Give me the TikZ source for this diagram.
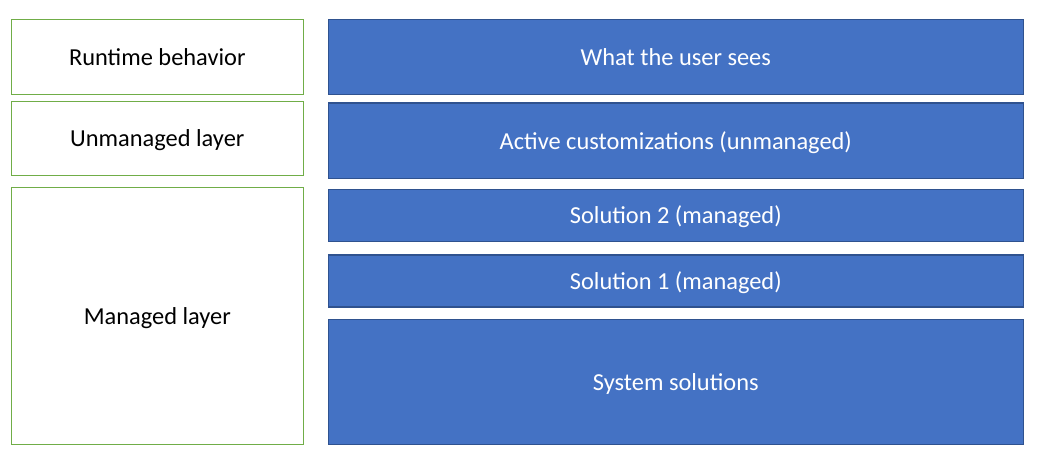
\documentclass[tikz,border=0pt]{standalone}
\usepackage{fontspec}
\setmainfont{Carlito}
\usepackage{tikz}
\usetikzlibrary{positioning}
\definecolor{layerblue}{HTML}{4472C4}
\definecolor{layeredge}{HTML}{2F528F}
\definecolor{layergreen}{HTML}{70AD47}

\begin{document}
\begin{tikzpicture}[%
  x=0.5pt,
  y=-0.5pt,
  font=\fontsize{12.2}{14}\selectfont,
  layer/.style={
    draw=layergreen,
    line width=0.5pt,
    fill=white,
    text=black,
    inner sep=0pt,
    outer sep=0pt,
    text height=8.4pt,
    text depth=0pt,
    minimum width=146pt,},
  sol/.style={
    draw=layeredge,
    line width=0.6pt,
    fill=layerblue,
    text=white,
    inner sep=0pt,
    outer sep=0pt,
    text height=8.4pt,
    text depth=0pt,
    minimum width=347.5pt,}
  ]
  \useasboundingbox (0,0) rectangle (1038,458);
  %% Left column
  \node[layer, minimum height=37.5pt, anchor=north west] (run) at (11.3,19.3) {Runtime behavior};
  \node[layer, minimum height=37pt, below = 3.5pt of run] (unm) {Unmanaged layer};
  \node[layer, minimum height=128.5pt, below = 6pt of unm] (man) {Managed layer};
  %% Right column
  \node[sol, minimum height=37.7pt, anchor=north west] (sees) at (328.3,19.3) {What the user sees};
  \node[sol, minimum height=37.7pt, below = 4.15pt of sees] (act) {Active customizations (unmanaged)};
  \node[sol, minimum height=26.1pt, below = 5.4pt of act] (sol2) {Solution 2 (managed)};
  \node[sol, minimum height=26pt, below = 6.8pt of sol2] (sol1) {Solution 1 (managed)};
  \node[sol, minimum height=62.3pt, below = 6.35pt of sol1] (sys) {System solutions};
\end{tikzpicture}
\end{document}
